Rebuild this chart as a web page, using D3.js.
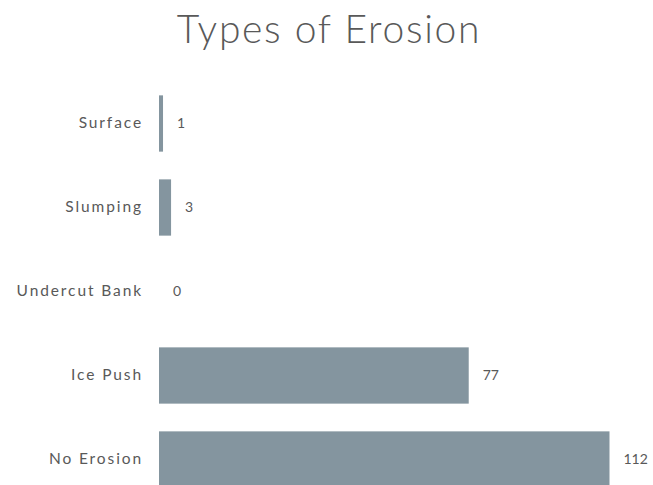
<!DOCTYPE html>
<html><head><meta charset="utf-8">
<script src="https://cdn.jsdelivr.net/npm/d3@7"></script>
<style>body{margin:0;background:#fff}svg{display:block}</style>
</head><body>
<svg id="c" width="653" height="485"></svg>
<script>
const categories = ["Surface", "Slumping", "Undercut Bank", "Ice Push", "No Erosion"];
const values = [1, 3, 0, 77, 112];
const title = "Types of Erosion";

const svg = d3.select("#c");
const font = "'Lato', 'DejaVu Sans', sans-serif";
const x = d3.scaleLinear().domain([0, 112]).range([159, 609.5]);
const y = d3.scaleBand().domain(categories).range([81.5, 501.5]).paddingInner(0.33).paddingOuter(0.165);

svg.append("text").attr("x", 329).attr("y", 43).attr("text-anchor", "middle")
  .attr("font-family", font).attr("font-size", 39).attr("font-weight", 300)
  .attr("letter-spacing", 1.7)
  .attr("fill", "#595959").text(title);

svg.selectAll("rect.bar").data(categories).enter().append("rect")
  .attr("x", x(0)).attr("y", d => y(d))
  .attr("width", (d, i) => x(values[i]) - x(0)).attr("height", y.bandwidth())
  .attr("fill", "#84959f");

const ax = d3.axisLeft(y).tickSize(0).tickPadding(16);
const g = svg.append("g").attr("transform", `translate(${x(0)},0)`).call(ax);
g.select(".domain").remove();
g.selectAll("text").attr("font-family", font).attr("font-size", 15.5)
  .attr("letter-spacing", 1.9).attr("fill", "#595959");

svg.selectAll("text.val").data(categories).enter().append("text")
  .attr("x", (d, i) => x(values[i]) + 14).attr("y", d => y(d) + y.bandwidth() / 2)
  .attr("dy", "0.35em").attr("font-family", font).attr("font-size", 14).attr("fill", "#595959")
  .text((d, i) => values[i]);
</script>
</body></html>
